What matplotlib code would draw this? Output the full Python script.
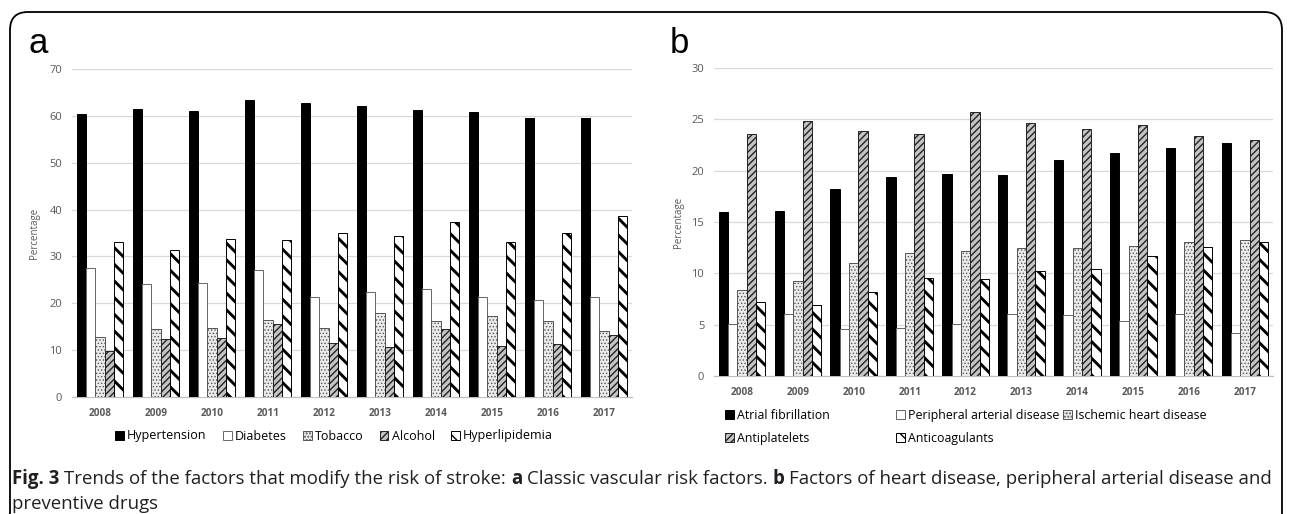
import matplotlib
matplotlib.use("Agg")
import matplotlib.pyplot as plt
from matplotlib.patches import Patch, FancyBboxPatch
import numpy as np

# values (percent of patients per year)
years = ["2008", "2009", "2010", "2011", "2012", "2013", "2014", "2015", "2016", "2017"]

hypertension = [60.5, 61.5, 61.0, 63.4, 62.7, 62.0, 61.2, 60.8, 59.6, 59.5]
diabetes = [27.6, 24.1, 24.3, 27.2, 21.4, 22.4, 23.1, 21.4, 20.6, 21.4]
tobacco = [12.9, 14.6, 14.7, 16.4, 14.7, 18.0, 16.3, 17.2, 16.3, 14.0]
alcohol = [9.8, 12.3, 12.6, 15.6, 11.6, 10.6, 14.5, 10.9, 11.3, 13.3]
hyperlipidemia = [33.0, 31.3, 33.8, 33.6, 35.0, 34.3, 37.4, 33.0, 34.9, 38.6]

atrial_fib = [16.0, 16.1, 18.2, 19.4, 19.7, 19.6, 21.0, 21.7, 22.2, 22.7]
peripheral = [5.1, 6.0, 4.6, 4.7, 5.1, 6.0, 5.9, 5.4, 6.0, 4.2]
ischemic = [8.4, 9.3, 11.0, 12.0, 12.2, 12.5, 12.5, 12.7, 13.1, 13.2]
antiplatelets = [23.6, 24.8, 23.9, 23.6, 25.7, 24.6, 24.1, 24.4, 23.4, 23.0]
anticoagulants = [7.2, 6.9, 8.2, 9.5, 9.4, 10.2, 10.4, 11.7, 12.6, 13.1]

labels_a = ["Hypertension", "Diabetes", "Tobacco", "Alcohol", "Hyperlipidemia"]
labels_b = ["Atrial fibrillation", "Peripheral arterial disease",
            "Ischemic heart disease", "Antiplatelets", "Anticoagulants"]

W, H = 1290, 514
TICK = "#595959"

# bar looks (excel style black and white patterns)
SOLID = dict(facecolor="black", edgecolor="black", hatch=None, hlw=1.0)
EMPTY = dict(facecolor="white", edgecolor="#666666", hatch=None, hlw=1.0)
DOTS = dict(facecolor="#ebebeb", edgecolor="#555555", hatch=".....", hlw=0.6)
DENSE = dict(facecolor="#c4c4c4", edgecolor="#222222", hatch="/" * 5, hlw=1.0)
STRIPES = dict(facecolor="white", edgecolor="black", hatch="\\" * 2, hlw=2.1)

styles_a = [SOLID, EMPTY, DOTS, DENSE, STRIPES]
styles_b = [SOLID, EMPTY, DOTS, DENSE, STRIPES]

plt.rcParams["font.family"] = ["Open Sans", "DejaVu Sans"]


def make_patch(st, label):
    with plt.rc_context({"hatch.linewidth": st["hlw"]}):
        p = Patch(facecolor=st["facecolor"], edgecolor=st["edgecolor"],
                  hatch=st["hatch"], linewidth=0.7, label=label)
    if hasattr(p, "set_hatch_linewidth"):
        p.set_hatch_linewidth(st["hlw"])
    return p


def draw_panel(ax, series, styles, ymax, step):
    x = np.arange(len(years))
    w = 0.167
    for i, (vals, st) in enumerate(zip(series, styles)):
        with plt.rc_context({"hatch.linewidth": st["hlw"]}):
            bars = ax.bar(x + (i - 2) * w, vals, w,
                          color=st["facecolor"], edgecolor=st["edgecolor"],
                          hatch=st["hatch"], linewidth=0.7, zorder=3)
        for b in bars:
            if hasattr(b, "set_hatch_linewidth"):
                b.set_hatch_linewidth(st["hlw"])

    ax.set_xlim(-0.5, len(years) - 0.5)
    ax.set_ylim(0, ymax)
    ax.set_yticks(np.arange(0, ymax + 0.1, step))
    ax.set_xticks(x)
    ax.set_xticklabels(years, fontsize=7.2, fontweight="bold", color=TICK)
    ax.tick_params(axis="y", length=0, labelsize=8, labelcolor=TICK, pad=7)
    ax.tick_params(axis="x", length=0, pad=8)
    ax.yaxis.grid(True, color="#d9d9d9", linewidth=0.9, zorder=0)
    ax.set_axisbelow(True)
    for s in ["top", "right", "left"]:
        ax.spines[s].set_visible(False)
    ax.spines["bottom"].set_color("#bfbfbf")
    ax.spines["bottom"].set_linewidth(0.9)
    ax.set_ylabel("Percentage", fontsize=7, color=TICK)


fig = plt.figure(figsize=(W / 100, H / 100), dpi=100)

# panel a
ax1 = fig.add_axes([72 / W, (H - 397) / H, 560 / W, 328 / H])
draw_panel(ax1, [hypertension, diabetes, tobacco, alcohol, hyperlipidemia],
           styles_a, 70, 10)
ax1.yaxis.set_label_coords(-(72 - 40) / 560, 0.5)

# panel b
ax2 = fig.add_axes([714 / W, (H - 376) / H, 559 / W, 308 / H])
draw_panel(ax2, [atrial_fib, peripheral, ischemic, antiplatelets, anticoagulants],
           styles_b, 30, 5)
ax2.yaxis.set_label_coords(-(714 - 684) / 559, 0.5)

# legends
leg_kw = dict(frameon=False, handlelength=0.7, handleheight=0.75,
              handletextpad=0.25, borderpad=0, borderaxespad=0)

handles_a = [make_patch(st, lab) for st, lab in zip(styles_a, labels_a)]
fig.legend(handles=handles_a, loc="center", bbox_to_anchor=(334 / W, 1 - 436 / H),
           ncol=5, columnspacing=1.3, fontsize=9, **leg_kw)

handles_b = [make_patch(st, lab) for st, lab in zip(styles_b, labels_b)]
cols = [(725, [handles_b[0], handles_b[3]]),
        (896, [handles_b[1], handles_b[4]]),
        (1063, [handles_b[2]])]
for xpix, hs in cols:
    fig.legend(handles=hs, loc="upper left", bbox_to_anchor=(xpix / W, 1 - 409 / H),
               ncol=1, labelspacing=0.8, fontsize=8.9, **leg_kw)

# panel letters
fig.text(28 / W, 1 - 53 / H, "a", fontsize=25, family="Liberation Sans", va="baseline")
fig.text(670 / W, 1 - 53 / H, "b", fontsize=25, family="Liberation Sans", va="baseline")

# frame round the figure (bottom is cut off like in the source)
frame = FancyBboxPatch((0.10, -0.5), 12.72, 5.52,
                       boxstyle="round,pad=0,rounding_size=0.18",
                       transform=fig.dpi_scale_trans, facecolor="none",
                       edgecolor="black", linewidth=1.3)
fig.add_artist(frame)

# caption with bold pieces
cap_font = ["Open Sans", "DejaVu Sans"]
cap_size = 13.4
cap_color = "#231f20"
renderer = fig.canvas.get_renderer()


def text_width(s, weight):
    t = fig.text(0, 0, s, fontsize=cap_size, family=cap_font, fontweight=weight)
    wpx = t.get_window_extent(renderer).width
    t.remove()
    return wpx


space = text_width("a a", "normal") - text_width("aa", "normal")
pieces = [("Fig. 3", "bold"),
          ("Trends of the factors that modify the risk of stroke:", "normal"),
          ("a", "bold"),
          ("Classic vascular risk factors.", "normal"),
          ("b", "bold"),
          ("Factors of heart disease, peripheral arterial disease and", "normal")]
xpos = 12
for s, wt in pieces:
    t = fig.text(xpos / W, 1 - 484 / H, s, fontsize=cap_size, family=cap_font,
                 fontweight=wt, color=cap_color, va="baseline")
    xpos = t.get_window_extent(renderer).x1 + space
fig.text(12 / W, 1 - 509 / H, "preventive drugs", fontsize=cap_size, family=cap_font,
         color=cap_color, va="baseline")

fig.savefig("out.png", dpi=100)
